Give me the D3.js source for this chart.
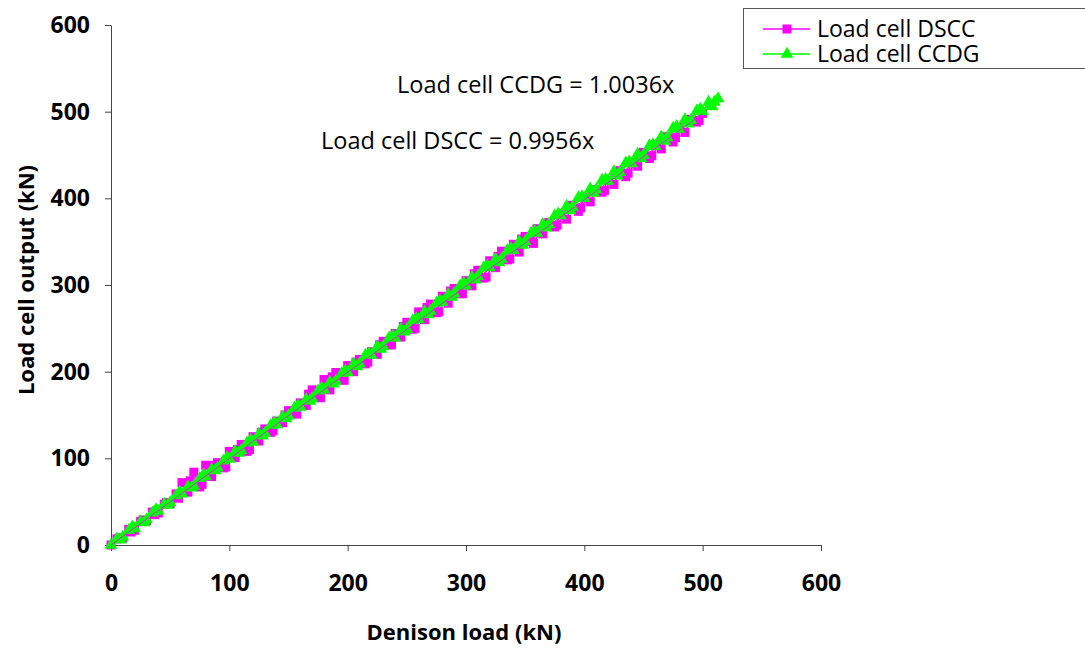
<!DOCTYPE html>
<html>
<head>
<meta charset="utf-8">
<script src="https://cdn.jsdelivr.net/npm/d3@7"></script>
<style>
  body { margin: 0; background: #fff; }
  svg { display: block; font-family: "Open Sans", "Noto Sans", sans-serif; }
</style>
</head>
<body>
<svg id="chart" width="1085" height="649"></svg>
<script>
// Denison load (kN) vs load cell output (kN); loading branch then unloading branch
const dsccX = [0,5,10,15,20,25,30,35,40,45,50,55,60,65,70,75,80,85,90,95,100,105,110,115,120,125,
  130,135,140,145,150,155,160,165,170,175,180,185,190,195,200,205,210,215,220,225,230,235,240,245,
  250,255,260,265,270,275,280,285,290,295,300,305,310,315,320,325,330,335,340,345,350,355,360,
  365,370,375,380,385,390,395,400,405,410,415,420,425,430,435,440,445,450,455,460,465,470,475,480,
  485,490,495,500,
  497,487,477,467,457,447,437,427,417,407,397,387,377,367,357,347,337,327,317,307,297,287,277,267,
  257,247,237,227,217,207,197,187,177,167,157,147,137,127,117,107,97,87,77,67,57,47,37,27,17,7];
const dsccY = [0,7,8,18,17,27,28,38,37,47,48,59,72,61,84,67,92,79,95,89,108,101,116,108,125,120,
  134,130,143,141,155,152,164,161,179,170,191,179,199,191,207,200,214,209,223,220,235,231,244,240,
  257,249,269,260,278,268,287,279,296,290,305,299,317,308,328,320,339,329,347,338,356,350,365,
  359,372,367,381,376,392,385,401,396,410,407,421,416,432,425,441,437,453,446,462,457,471,465,482,
  476,491,488,498,
  490,489,470,469,449,448,429,429,409,409,389,390,369,371,348,353,330,333,309,313,290,293,269,274,
  250,252,231,231,211,211,190,194,170,174,151,150,132,130,110,110,90,92,70,74,54,49,35,29,15,8];

const ccdgX = [0,5,10,15,20,25,30,35,40,45,50,55,60,65,70,75,80,85,90,95,100,105,110,115,120,125,
  130,135,140,145,150,155,160,165,170,175,180,185,190,195,200,205,210,215,220,225,230,235,240,245,
  250,255,260,265,270,275,280,285,290,295,300,305,310,315,320,325,330,335,340,345,350,355,360,
  365,370,375,380,385,390,395,400,405,410,415,420,425,430,435,440,445,450,455,460,465,470,475,480,
  485,490,495,500,505,510,513,
  508,498,488,478,468,458,448,438,428,418,408,398,388,378,368,358,348,338,328,318,308,298,288,278,
  268,258,248,238,228,218,208,198,188,178,168,158,148,138,128,118,108,98,88,78,68,58,48,38,28,18,8];
const ccdgY = [0,7,9,17,19,27,29,37,39,47,49,57,59,67,68,77,79,87,89,97,99,108,109,118,119,128,
  129,138,139,148,149,158,159,168,169,178,179,188,189,198,199,209,209,219,219,229,229,239,239,249,
  249,259,260,269,270,279,280,289,290,299,299,309,310,320,320,330,330,340,340,350,350,360,360,
  370,370,380,380,391,390,401,400,411,410,421,420,431,430,441,440,451,450,461,460,471,470,481,480,
  491,490,501,500,511,511,515,
  506,503,486,483,466,462,446,442,426,422,406,402,386,382,366,362,346,342,326,322,306,302,286,282,
  266,261,246,241,226,221,206,201,186,181,166,161,146,141,126,121,106,101,86,81,66,61,46,41,26,21,6];

const xTicks = [0, 100, 200, 300, 400, 500, 600];
const yTicks = [0, 100, 200, 300, 400, 500, 600];
const slopes = { dscc: 0.9956, ccdg: 1.0036 };
const fitLabels = ["Load cell CCDG = 1.0036x", "Load cell DSCC = 0.9956x"];
const seriesNames = ["Load cell DSCC", "Load cell CCDG"];

const svg = d3.select("#chart");
const x = d3.scaleLinear().domain([0, 600]).range([111, 821]);
const y = d3.scaleLinear().domain([0, 600]).range([545, 25]);

const axisColor = "#444";

const gx = svg.append("g").attr("transform", "translate(0,545)")
  .call(d3.axisBottom(x).tickValues(xTicks).tickSize(6).tickPadding(24).tickSizeOuter(0));
const gy = svg.append("g").attr("transform", "translate(111,0)")
  .call(d3.axisLeft(y).tickValues(yTicks).tickSize(6).tickPadding(15).tickSizeOuter(0));
[gx, gy].forEach(g => {
  g.select(".domain").attr("stroke", axisColor);
  g.selectAll(".tick line").attr("stroke", axisColor);
  g.selectAll(".tick text").attr("fill", "#000").style("font-size", "23px")
    .style("font-weight", "bold").style("font-family", "'Open Sans', sans-serif");
});

svg.append("text").attr("x", 464).attr("y", 640).attr("text-anchor", "middle")
  .style("font-size", "22px").style("font-weight", "bold").text("Denison load (kN)");
svg.append("text").attr("transform", "translate(34,280) rotate(-90)").attr("text-anchor", "middle")
  .style("font-size", "22px").style("font-weight", "bold").text("Load cell output (kN)");

const dscc = dsccX.map((d, i) => [d, dsccY[i]]);
const ccdg = ccdgX.map((d, i) => [d, ccdgY[i]]);
const line = d3.line().x(d => x(d[0])).y(d => y(d[1]));

// DSCC series
svg.append("path").datum(dscc).attr("d", line).attr("fill", "none")
  .attr("stroke", "#ff00ff").attr("stroke-width", 1.5);
svg.append("g").selectAll("rect").data(dscc).join("rect")
  .attr("x", d => x(d[0]) - 4.5).attr("y", d => y(d[1]) - 4.5)
  .attr("width", 9).attr("height", 9).attr("fill", "#ff00ff");

// CCDG series
const tri = d3.symbol().type(d3.symbolTriangle).size(70);
svg.append("path").datum(ccdg).attr("d", line).attr("fill", "none")
  .attr("stroke", "#00ff00").attr("stroke-width", 1.5);
svg.append("g").selectAll("path").data(ccdg).join("path")
  .attr("d", tri).attr("transform", d => `translate(${x(d[0])},${y(d[1])})`)
  .attr("fill", "#00ff00");

// trend lines
svg.append("line").attr("x1", x(0)).attr("y1", y(0)).attr("x2", x(513)).attr("y2", y(513 * slopes.ccdg))
  .attr("stroke", "#00ff00").attr("stroke-width", 1);
svg.append("line").attr("x1", x(0)).attr("y1", y(0)).attr("x2", x(500)).attr("y2", y(500 * slopes.dscc))
  .attr("stroke", "#cc33cc").attr("stroke-width", 1);

svg.append("text").attr("x", 397).attr("y", 93).style("font-size", "23.5px").text(fitLabels[0]);
svg.append("text").attr("x", 321).attr("y", 149).style("font-size", "23.5px").text(fitLabels[1]);

// legend
const lg = svg.append("g");
lg.append("rect").attr("x", 743.5).attr("y", 8.5).attr("width", 360).attr("height", 60)
  .attr("fill", "#fff").attr("stroke", "#555").attr("stroke-width", 1);
const legendColors = ["#ff00ff", "#00ff00"];
seriesNames.forEach((name, i) => {
  const cy = 29 + i * 25;
  lg.append("line").attr("x1", 763).attr("x2", 810).attr("y1", cy).attr("y2", cy)
    .attr("stroke", legendColors[i]).attr("stroke-width", 1.5);
  if (i === 0) {
    lg.append("rect").attr("x", 782.5).attr("y", cy - 4.5).attr("width", 9).attr("height", 9)
      .attr("fill", legendColors[i]);
  } else {
    lg.append("path").attr("d", tri).attr("transform", `translate(787,${cy})`).attr("fill", legendColors[i]);
  }
  lg.append("text").attr("x", 817).attr("y", cy + 8).style("font-size", "23px").text(name);
});
</script>
</body>
</html>
